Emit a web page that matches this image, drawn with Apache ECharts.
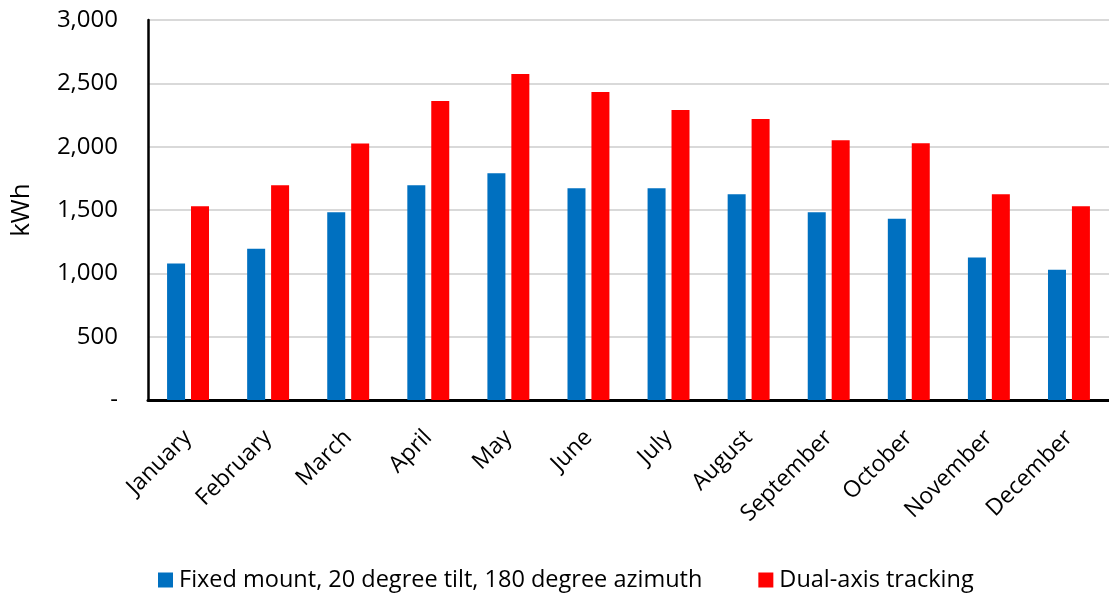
<!DOCTYPE html>
<html><head><meta charset="utf-8">
<script src="https://cdn.jsdelivr.net/npm/echarts@6/dist/echarts.min.js"></script>
<style>html,body{margin:0;padding:0;background:#fff}#c{width:1109px;height:595px}</style>
</head><body><div id="c"></div>
<script>
const months = ["January","February","March","April","May","June","July","August","September","October","November","December"];
const fixedMount = [1078, 1194, 1482, 1695, 1790, 1672, 1672, 1624, 1482, 1431, 1125, 1028];
const dualAxis = [1529, 1695, 2025, 2360, 2574, 2431, 2289, 2218, 2051, 2027, 1624, 1529];
const seriesNames = ["Fixed mount, 20 degree tilt, 180 degree azimuth", "Dual-axis tracking"];
const yTicks = {min: 0, max: 3000, interval: 500};
const FONT = "'Open Sans', 'Liberation Sans', sans-serif";

const chart = echarts.init(document.getElementById('c'), null, {renderer: 'canvas'});
chart.setOption({
  animation: false,
  textStyle: {fontFamily: FONT},
  grid: {left: 148, width: 972, top: 20, height: 380, containLabel: false},
  legend: {
    data: seriesNames,
    top: 563, left: 153,
    itemWidth: 15, itemHeight: 15, itemGap: 56,
    icon: 'rect',
    textStyle: {fontFamily: FONT, fontSize: 23.5, color: '#000', padding: [0,0,0,1]}
  },
  xAxis: {
    type: 'category', data: months,
    axisLine: {lineStyle: {color: '#000', width: 3}},
    axisTick: {show: false},
    axisLabel: {rotate: 45, fontSize: 23, color: '#000', margin: 34, interval: 0, fontFamily: FONT}
  },
  yAxis: {
    type: 'value', min: yTicks.min, max: yTicks.max, interval: yTicks.interval,
    name: 'kWh', nameLocation: 'middle', nameGap: 113, nameRotate: 90,
    nameTextStyle: {fontSize: 26, color: '#000', fontFamily: FONT},
    axisLine: {show: true, lineStyle: {color: '#000', width: 2.5}},
    axisTick: {show: false},
    axisLabel: {fontSize: 24, color: '#000', margin: 30, fontFamily: FONT,
      formatter: v => v === 0 ? '-' : v.toLocaleString('en-US')},
    splitLine: {lineStyle: {color: '#d9d9d9', width: 2}}
  },
  series: [
    {name: seriesNames[0], type: 'bar', data: fixedMount, barWidth: 18, barGap: '33%',
     itemStyle: {color: '#0070c0'}},
    {name: seriesNames[1], type: 'bar', data: dualAxis, barWidth: 18,
     itemStyle: {color: '#ff0000'}}
  ]
});
</script></body></html>
